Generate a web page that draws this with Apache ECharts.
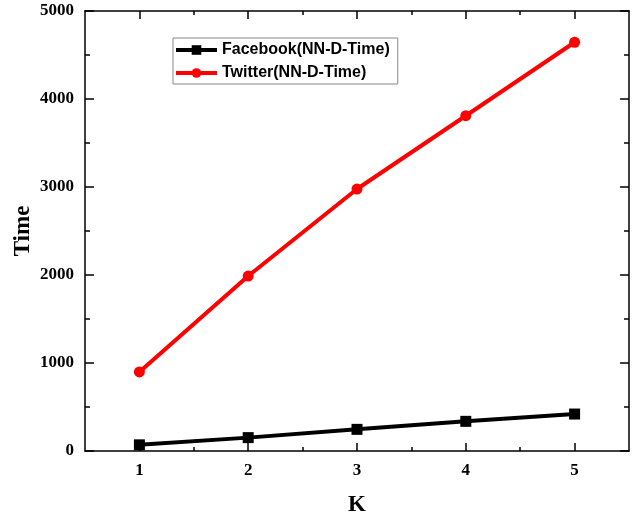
<!DOCTYPE html>
<html>
<head>
<meta charset="utf-8">
<script src="https://cdn.jsdelivr.net/npm/echarts@6/dist/echarts.min.js"></script>
<style>
  html, body { margin: 0; padding: 0; background: #fff; }
  #chart { width: 634px; height: 520px; }
</style>
</head>
<body>
<div id="chart"></div>
<script>
// K values on the x axis
var kValues = [1, 2, 3, 4, 5];
// time
var facebookTime = [70, 152, 246, 337, 420];
var twitterTime = [898, 1988, 2977, 3810, 4645];
var yTicks = [0, 1000, 2000, 3000, 4000, 5000];

var toPairs = function (ys) {
  return kValues.map(function (k, i) { return [k, ys[i]]; });
};

var serifBold = {
  fontFamily: 'Liberation Serif',
  fontWeight: 'bold',
  color: '#000'
};

var axisLine = { show: true, onZero: false, lineStyle: { color: '#000', width: 1.5 } };
var tickStyle = { color: '#000', width: 1.5 };

var chart = echarts.init(document.getElementById('chart'));
chart.setOption({
  animation: false,
  backgroundColor: '#fff',
  grid: { left: 85, right: 5, top: 11, bottom: 69, containLabel: false, outerBoundsMode: 'none' },
  legend: {
    orient: 'vertical',
    left: 173,
    top: 38,
    padding: [3, 8, 2, 1],
    borderColor: '#888',
    borderWidth: 1,
    itemWidth: 41,
    itemHeight: 12,
    itemGap: 5,
    lineStyle: { width: 4 },
    textStyle: {
      fontFamily: 'Liberation Sans',
      fontWeight: 'bold',
      fontSize: 16,
      lineHeight: 18,
      color: '#000'
    },
    data: ['Facebook(NN-D-Time)', 'Twitter(NN-D-Time)']
  },
  xAxis: [
    {
      type: 'value',
      position: 'bottom',
      min: 0.5,
      max: 5.5,
      name: 'K',
      nameLocation: 'middle',
      nameGap: 43,
      nameMoveOverlap: false,
      nameTextStyle: Object.assign({ fontSize: 23 }, serifBold),
      axisLine: axisLine,
      axisTick: { inside: true, length: 8, customValues: kValues, lineStyle: tickStyle },
      minorTick: { show: true, splitNumber: 2, length: 4, lineStyle: tickStyle },
      axisLabel: Object.assign({ fontSize: 17, margin: 11, customValues: kValues }, serifBold),
      splitLine: { show: false }
    },
    {
      type: 'value',
      position: 'top',
      min: 0.5,
      max: 5.5,
      axisLine: axisLine,
      axisTick: { inside: true, length: 8, customValues: kValues, lineStyle: tickStyle },
      minorTick: { show: true, splitNumber: 2, length: 4, lineStyle: tickStyle },
      axisLabel: { show: false },
      splitLine: { show: false }
    }
  ],
  yAxis: [
    {
      type: 'value',
      position: 'left',
      min: 0,
      max: 5000,
      interval: 1000,
      name: 'Time',
      nameLocation: 'middle',
      nameGap: 50,
      nameMoveOverlap: false,
      nameTextStyle: Object.assign({ fontSize: 23 }, serifBold),
      axisLine: axisLine,
      axisTick: { inside: true, length: 9, lineStyle: tickStyle },
      minorTick: { show: true, splitNumber: 2, length: 5, lineStyle: tickStyle },
      axisLabel: Object.assign({
        fontSize: 17,
        margin: 11,
        customValues: yTicks,
        formatter: function (v) { return String(v); }
      }, serifBold),
      splitLine: { show: false }
    },
    {
      type: 'value',
      position: 'right',
      min: 0,
      max: 5000,
      interval: 1000,
      axisLine: axisLine,
      axisTick: { inside: true, length: 9, lineStyle: tickStyle },
      minorTick: { show: true, splitNumber: 2, length: 5, lineStyle: tickStyle },
      axisLabel: { show: false },
      splitLine: { show: false }
    }
  ],
  series: [
    {
      name: 'Facebook(NN-D-Time)',
      type: 'line',
      xAxisIndex: 0,
      yAxisIndex: 0,
      symbol: 'rect',
      symbolSize: 11,
      color: '#000',
      lineStyle: { color: '#000', width: 4 },
      itemStyle: { color: '#000' },
      data: toPairs(facebookTime)
    },
    {
      name: 'Twitter(NN-D-Time)',
      type: 'line',
      xAxisIndex: 0,
      yAxisIndex: 0,
      symbol: 'circle',
      symbolSize: 11,
      color: '#ff0000',
      lineStyle: { color: '#ff0000', width: 4 },
      itemStyle: { color: '#ff0000' },
      data: toPairs(twitterTime)
    }
  ]
});
</script>
</body>
</html>
